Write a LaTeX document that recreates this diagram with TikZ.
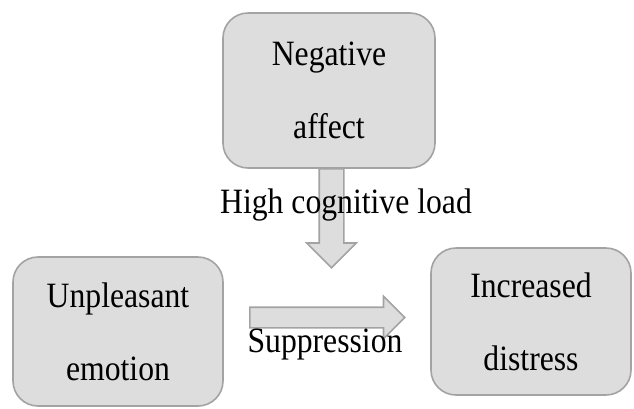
\documentclass[tikz,border=0pt]{standalone}
\usepackage{fontspec}
\setmainfont[FakeStretch=0.89]{Liberation Serif}
\usetikzlibrary{shapes.arrows}
\definecolor{boxfill}{HTML}{DDDDDD}
\definecolor{boxline}{HTML}{A3A3A3}

\begin{document}
\begin{tikzpicture} [x=1pt,y=-1pt,
  every node/.style={font=\fontsize{35.6}{73}\selectfont},
  box/.style={draw=boxline,fill=boxfill,line width=1.6pt,rounded corners=25pt,align=center,inner sep=0pt},
  blockarrow/.style={single arrow,draw=boxline,fill=boxfill,line width=1.6pt,inner xsep=0pt,single arrow tip angle=90,anchor=tail}]
\useasboundingbox (0,0) rectangle (634,408);
\node (neg) [box,minimum width=212pt,minimum height=155pt] at (329,90.5) {Negative\\affect};
\node (unp) [box,minimum width=210pt,minimum height=149pt] at (118,331.5) {Unpleasant\\emotion};
\node (inc) [box,minimum width=200pt,minimum height=147pt] at (531,321.5) {Increased\\distress};

\node (load) [blockarrow,rotate=-90,minimum height=99pt,inner ysep=11.5pt,single arrow head extend=12.5pt] at (331.5,168) {};
\node (supp) [blockarrow,minimum height=155pt,inner ysep=9.5pt,single arrow head extend=11pt] at (249,317.5) {};

\node (loadtext) [anchor=base] at (346,213) {High cognitive load};
\node (supptext) [anchor=base] at (325,352) {Suppression};
\end{tikzpicture}
\end{document}
